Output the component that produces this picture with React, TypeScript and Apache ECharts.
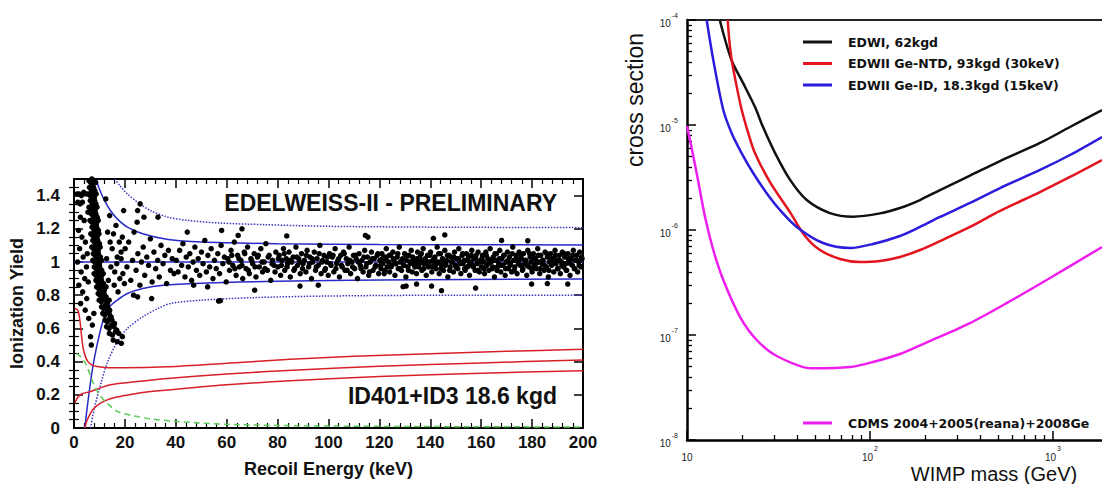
import { useEffect, useRef } from "react";
import * as echarts from "echarts";

const SANS = '"Liberation Sans", Arial, Helvetica, sans-serif';
const DEJAVU = '"DejaVu Sans", sans-serif';

// ---------------- Left panel: ionization yield vs recoil energy ----------------
const yieldTickLabels = [0, 0.2, 0.4, 0.6, 0.8, 1, 1.2, 1.4];
const yieldMinorTicks = [0.05, 0.1, 0.15, 0.25, 0.3, 0.35, 0.45, 0.5, 0.55, 0.65, 0.7, 0.75, 0.85, 0.9, 0.95, 1.05, 1.1, 1.15, 1.25, 1.3, 1.35, 1.45];

const blueCenter = [[0, 1], [200, 1]];
const blueUpper = [[8.8, 1.5], [9.1, 1.476], [10.5, 1.42], [12, 1.37], [14.3, 1.31], [17, 1.26], [21, 1.21], [27, 1.17], [37, 1.135], [50, 1.12], [80, 1.11], [120, 1.105], [200, 1.103]];
const blueLower = [[4.2, 0], [5, 0.1], [6, 0.22], [7, 0.33], [8, 0.42], [9.5, 0.53], [11.5, 0.65], [14, 0.73], [17, 0.77], [21, 0.81], [27, 0.84], [35, 0.86], [50, 0.872], [80, 0.884], [120, 0.892], [200, 0.897]];
const dottedUpper = [[16, 1.5], [18, 1.46], [21, 1.41], [25, 1.36], [30, 1.31], [37, 1.27], [45, 1.25], [57, 1.235], [75, 1.225], [100, 1.215], [140, 1.21], [200, 1.207]];
const dottedLower = [[6.5, 0], [8, 0.12], [10.6, 0.27], [13, 0.39], [17, 0.52], [21, 0.6], [27, 0.67], [33, 0.72], [38, 0.75], [50, 0.77], [70, 0.785], [100, 0.795], [150, 0.8], [200, 0.8]];
const redTop = [[0.3, 0.72], [1.5, 0.71], [2.3, 0.65], [3, 0.55], [3.6, 0.48], [4.5, 0.43], [5.5, 0.4], [7, 0.38], [9, 0.37], [12, 0.365], [20, 0.363], [36.7, 0.369], [60, 0.39], [85, 0.414], [110, 0.432], [140, 0.447], [170, 0.462], [200, 0.474]];
const redMiddle = [[0.3, 0.15], [1.5, 0.185], [3, 0.205], [6.5, 0.22], [14.3, 0.26], [25, 0.28], [37.8, 0.3], [60, 0.325], [88, 0.35], [120, 0.372], [160, 0.392], [200, 0.41]];
const redBottom = [[4.3, 0], [5, 0.04], [6.5, 0.09], [8, 0.12], [10.4, 0.15], [14, 0.175], [18.2, 0.19], [25, 0.21], [37.8, 0.23], [60, 0.26], [85, 0.285], [120, 0.31], [160, 0.33], [200, 0.345]];
const greenDashed = [[1, 0.45], [2.5, 0.43], [4.5, 0.39], [7.6, 0.27], [10, 0.2], [13, 0.15], [17, 0.1], [23, 0.075], [30, 0.055], [40, 0.04], [60, 0.022], [100, 0.012], [150, 0.008], [200, 0.006]];

const lowEnergyDots = [[1.2, 1.41], [2.0, 1.41], [2.9, 1.4], [3.8, 1.42], [4.6, 1.41], [1.5, 1.36], [2.4, 1.35], [3.3, 1.36], [2.5, 1.27], [4.0, 1.25], [1.8, 1.19], [3.1, 1.15], [4.5, 1.12], [2.2, 1.08], [3.6, 1.03], [1.4, 1.0], [4.9, 0.97], [2.8, 0.94], [4.2, 0.9], [1.9, 0.86], [3.4, 0.82], [5.0, 0.78], [2.6, 0.75], [4.4, 0.71], [5.8, 0.66], [6.5, 0.55], [7.8, 0.69], [5.5, 1.3], [5.2, 1.05], [5.6, 0.88], [6.8, 0.5], [7.2, 0.62]];

const noiseStripeDots = [
  [5.9, 1.49], [6.5, 1.48], [7.0, 1.5], [7.4, 1.47], [7.9, 1.49], [8.5, 1.48],
  [6.1, 1.45], [6.7, 1.44], [7.2, 1.46], [7.7, 1.45], [8.2, 1.43],
  [5.6, 1.41], [6.3, 1.4], [6.9, 1.42], [7.5, 1.41], [8.0, 1.39], [8.7, 1.41],
  [6.4, 1.37], [7.0, 1.36], [7.6, 1.38], [8.1, 1.37], [8.6, 1.35],
  [5.9, 1.33], [6.6, 1.32], [7.2, 1.34], [7.8, 1.33], [8.3, 1.31], [9.0, 1.33],
  [6.8, 1.29], [7.4, 1.28], [8.0, 1.3], [8.6, 1.29], [9.1, 1.27],
  [6.3, 1.25], [7.0, 1.24], [7.6, 1.26], [8.2, 1.25], [8.8, 1.23], [9.5, 1.25],
  [7.1, 1.21], [7.7, 1.2], [8.3, 1.22], [8.9, 1.21], [9.6, 1.19],
  [6.6, 1.17], [7.3, 1.16], [7.9, 1.18], [8.5, 1.17], [9.1, 1.15], [9.8, 1.17],
  [7.4, 1.13], [8.0, 1.12], [8.7, 1.14], [9.3, 1.13], [10.0, 1.11],
  [7.0, 1.09], [7.7, 1.08], [8.3, 1.1], [8.9, 1.09], [9.5, 1.07], [10.3, 1.09],
  [7.6, 1.05], [8.3, 1.04], [9.0, 1.06], [9.6, 1.05], [10.4, 1.03],
  [7.4, 1.01], [8.1, 1.0], [8.7, 1.02], [9.3, 1.01], [10.0, 0.99], [10.8, 1.01],
  [8.0, 0.97], [8.7, 0.96], [9.4, 0.98], [10.1, 0.97], [10.9, 0.95],
  [7.9, 0.93], [8.6, 0.92], [9.3, 0.94], [10.0, 0.93], [10.7, 0.91], [11.5, 0.93],
  [8.6, 0.89], [9.3, 0.88], [10.0, 0.9], [10.8, 0.89], [11.6, 0.87],
  [8.9, 0.85], [9.7, 0.84], [10.4, 0.86], [11.1, 0.85], [11.9, 0.83], [12.6, 0.85],
  [9.5, 0.81], [10.3, 0.8], [11.0, 0.82], [11.8, 0.81], [12.6, 0.79],
  [9.9, 0.77], [10.7, 0.76], [11.5, 0.78], [12.3, 0.77], [13.1, 0.75], [13.8, 0.77],
  [10.8, 0.73], [11.6, 0.72], [12.4, 0.74], [13.2, 0.73], [14.0, 0.71],
  [11.3, 0.69], [12.1, 0.68], [13.0, 0.7], [13.8, 0.69], [14.6, 0.67],
  [12.2, 0.65], [13.1, 0.64], [14.0, 0.66], [14.9, 0.65], [15.9, 0.63],
  [12.8, 0.61], [13.8, 0.6], [14.8, 0.62], [15.7, 0.61], [16.8, 0.59],
  [13.9, 0.57], [15.1, 0.56], [16.3, 0.58], [17.6, 0.57], [19.0, 0.55],
  [15.4, 0.53], [17.0, 0.52], [18.6, 0.51]
];

const nearStripeDots = [[12.5, 1.38], [14.0, 1.28], [15.5, 1.17], [16.5, 1.22], [13.2, 1.18], [17.8, 1.12], [19.0, 1.15], [15.0, 1.08], [16.0, 0.94], [14.5, 0.97], [17.0, 1.03], [13.5, 0.89], [15.8, 0.86], [18.0, 0.9], [12.8, 1.02], [14.2, 1.12], [16.8, 0.99], [18.5, 1.06], [17.3, 0.82], [19.8, 0.87]];

const bandDots18to80 = [
  [18.5, 1.02], [19.2, 0.93], [20.1, 1.08], [20.8, 0.97], [21.5, 1.12], [22.3, 0.89], [23.0, 1.01], [23.6, 1.18], [24.4, 0.95], [25.1, 1.05], [25.9, 0.86], [26.5, 1.0], [27.2, 1.09], [27.8, 0.92], [28.6, 1.03], [29.3, 0.98], [30.0, 1.14], [30.7, 0.88], [31.4, 1.06], [32.1, 0.96], [32.9, 1.01], [33.5, 0.91], [34.2, 1.1], [35.0, 0.99], [35.7, 1.04], [36.4, 0.87], [37.1, 1.07], [37.9, 0.95], [38.6, 1.02], [39.3, 0.93],
  [40.2, 1.01], [40.9, 0.94], [41.5, 1.07], [42.3, 0.98], [42.8, 1.11], [43.6, 0.91], [44.1, 1.03], [44.9, 0.97], [45.5, 1.05], [46.2, 0.89], [46.8, 1.0], [47.5, 1.09], [48.1, 0.95], [48.8, 1.02], [49.4, 0.92], [50.1, 1.06], [50.7, 0.99], [51.4, 1.13], [52.0, 0.94], [52.6, 1.04], [53.3, 0.97], [53.9, 1.08], [54.6, 0.9], [55.2, 1.01], [55.9, 0.96], [56.5, 1.05], [57.2, 0.93], [57.8, 1.1], [58.5, 0.99], [59.1, 1.03], [59.8, 0.88],
  [60.4, 1.02], [61.1, 0.95], [61.7, 1.07], [62.4, 0.98], [63.0, 1.12], [63.7, 0.92], [64.3, 1.04], [65.0, 0.97], [65.6, 1.01], [66.3, 0.9], [66.9, 1.06], [67.6, 0.96], [68.2, 1.09], [68.9, 0.93], [69.5, 1.02], [70.2, 0.99], [70.8, 1.05], [71.5, 0.91], [72.1, 1.03], [72.8, 0.97], [73.4, 1.08], [74.1, 0.94], [74.7, 1.0], [75.4, 1.11], [76.0, 0.95], [76.7, 1.04], [77.3, 0.89], [78.0, 1.01], [78.6, 0.98], [79.3, 1.06]
];

const bandDots80to120 = [
  [80.1, 0.97], [80.6, 1.04], [81.2, 0.92], [81.7, 1.01], [82.3, 1.08], [82.8, 0.95], [83.4, 1.02], [83.9, 0.99], [84.5, 1.06], [85.0, 0.91], [85.6, 1.0], [86.1, 1.03], [86.7, 0.96], [87.2, 1.09], [87.8, 0.98], [88.3, 1.02], [88.9, 0.93], [89.4, 1.05], [90.0, 0.99], [90.5, 1.01], [91.1, 0.94], [91.6, 1.07], [92.2, 0.97], [92.7, 1.03], [93.3, 0.9], [93.8, 1.0], [94.4, 1.06], [94.9, 0.95], [95.5, 1.02], [96.0, 0.98], [96.6, 1.1], [97.1, 0.93], [97.7, 1.01], [98.2, 1.04], [98.8, 0.96], [99.3, 1.0], [99.9, 0.92],
  [100.4, 1.05], [101.0, 0.98], [101.5, 1.03], [102.1, 0.94], [102.6, 1.08], [103.2, 0.99], [103.7, 1.01], [104.3, 0.91], [104.8, 1.04], [105.4, 0.97], [105.9, 1.06], [106.5, 0.95], [107.0, 1.02], [107.6, 0.99], [108.1, 1.09], [108.7, 0.93], [109.2, 1.0], [109.8, 1.04], [110.3, 0.96], [110.9, 1.02], [111.4, 0.9], [112.0, 1.05], [112.5, 0.98], [113.1, 1.01], [113.6, 0.94], [114.2, 1.07], [114.7, 0.97], [115.3, 1.03], [115.8, 0.92], [116.4, 1.0], [116.9, 1.06], [117.5, 0.95], [118.0, 1.02], [118.6, 0.98], [119.1, 1.04], [119.7, 0.93]
];

const bandDots120to160 = [
  [120.2, 1.01], [120.6, 0.96], [121.0, 1.05], [121.4, 0.99], [121.9, 0.93], [122.3, 1.03], [122.7, 1.08], [123.1, 0.97], [123.6, 1.0], [124.0, 0.94], [124.4, 1.04], [124.8, 0.98], [125.3, 1.06], [125.7, 1.01], [126.1, 0.92], [126.5, 0.99], [127.0, 1.03], [127.4, 0.96], [127.8, 1.09], [128.2, 1.0], [128.7, 0.95], [129.1, 1.02], [129.5, 0.98], [129.9, 1.05], [130.4, 0.91], [130.8, 1.01], [131.2, 0.97], [131.6, 1.04], [132.1, 0.99], [132.5, 1.07], [132.9, 0.94], [133.3, 1.02], [133.8, 0.98], [134.2, 1.0], [134.6, 0.93], [135.0, 1.06], [135.5, 0.97], [135.9, 1.03], [136.3, 1.01], [136.7, 0.95], [137.2, 1.08], [137.6, 0.99], [138.0, 1.02], [138.4, 0.92], [138.9, 1.04], [139.3, 0.97], [139.7, 1.0],
  [140.1, 1.06], [140.6, 0.94], [141.0, 1.01], [141.4, 0.98], [141.8, 1.03], [142.3, 0.96], [142.7, 1.09], [143.1, 1.0], [143.5, 0.93], [144.0, 1.05], [144.4, 0.98], [144.8, 1.02], [145.2, 0.95], [145.7, 1.07], [146.1, 0.99], [146.5, 1.01], [146.9, 0.91], [147.4, 1.04], [147.8, 0.97], [148.2, 1.03], [148.6, 1.0], [149.1, 0.94], [149.5, 1.06], [149.9, 0.98], [150.3, 1.02], [150.8, 0.96], [151.2, 1.08], [151.6, 1.0], [152.0, 0.93], [152.5, 1.04], [152.9, 0.99], [153.3, 1.01], [153.7, 0.95], [154.2, 1.05], [154.6, 0.97], [155.0, 1.03], [155.4, 0.92], [155.9, 1.0], [156.3, 1.07], [156.7, 0.98], [157.1, 1.02], [157.6, 0.95], [158.0, 1.04], [158.4, 0.99], [158.8, 1.06], [159.3, 0.94], [159.7, 1.01]
];

const bandDots160to200 = [
  [160.1, 0.97], [160.5, 1.04], [160.9, 1.0], [161.3, 0.93], [161.8, 1.06], [162.2, 0.98], [162.6, 1.02], [163.0, 0.95], [163.5, 1.08], [163.9, 1.0], [164.3, 0.96], [164.7, 1.03], [165.2, 0.91], [165.6, 1.01], [166.0, 1.05], [166.4, 0.97], [166.9, 0.99], [167.3, 1.07], [167.7, 0.94], [168.1, 1.02], [168.6, 0.98], [169.0, 1.04], [169.4, 0.92], [169.8, 1.0], [170.3, 1.06], [170.7, 0.96], [171.1, 1.03], [171.5, 0.99], [172.0, 0.94], [172.4, 1.09], [172.8, 1.01], [173.2, 0.97], [173.7, 1.04], [174.1, 0.93], [174.5, 1.0], [174.9, 1.06], [175.4, 0.98], [175.8, 1.02], [176.2, 0.95], [176.6, 1.05], [177.1, 0.99], [177.5, 1.01], [177.9, 0.92], [178.3, 1.07], [178.8, 0.97], [179.2, 1.03], [179.6, 1.0],
  [180.0, 0.94], [180.5, 1.05], [180.9, 0.98], [181.3, 1.02], [181.7, 0.96], [182.2, 1.08], [182.6, 1.0], [183.0, 0.93], [183.4, 1.04], [183.9, 0.99], [184.3, 1.01], [184.7, 0.95], [185.1, 1.06], [185.6, 0.97], [186.0, 1.03], [186.4, 0.91], [186.8, 1.0], [187.3, 1.05], [187.7, 0.98], [188.1, 1.02], [188.5, 0.94], [189.0, 1.07], [189.4, 0.99], [189.8, 1.01], [190.2, 0.96], [190.7, 1.04], [191.1, 0.93], [191.5, 1.0], [191.9, 1.06], [192.4, 0.97], [192.8, 1.03], [193.2, 0.99], [193.6, 0.95], [194.1, 1.05], [194.5, 1.01], [194.9, 0.92], [195.3, 1.02], [195.8, 0.98], [196.2, 1.07], [196.6, 0.96], [197.0, 1.01], [197.5, 1.04], [197.9, 0.94], [198.3, 1.0], [198.7, 1.06], [199.2, 0.97], [199.6, 1.02]
];

const bandDotsDenseCore = [
  [60.9, 1.0], [62.0, 1.04], [63.2, 0.96], [64.8, 1.02], [66.0, 0.98], [67.1, 1.05], [68.5, 0.95], [69.8, 1.01], [71.1, 0.97], [72.4, 1.04], [73.9, 1.0], [75.0, 0.96], [76.3, 1.03], [77.8, 0.99], [79.0, 0.94],
  [80.3, 1.02], [81.5, 0.98], [82.6, 1.05], [83.7, 0.97], [84.9, 1.01], [86.4, 0.95], [87.5, 1.03], [88.6, 1.0], [89.8, 0.96], [91.3, 1.04], [92.5, 0.99], [93.6, 1.02], [95.2, 0.97], [96.3, 1.05], [97.4, 1.0], [98.5, 0.95], [99.6, 1.03],
  [100.7, 0.99], [101.8, 1.04], [102.9, 0.96], [104.0, 1.02], [105.1, 0.98], [106.2, 1.05], [107.3, 0.95], [108.4, 1.01], [109.5, 0.97], [110.6, 1.04], [111.7, 1.0], [112.8, 0.96], [113.9, 1.03], [115.0, 0.99], [116.1, 0.94], [117.2, 1.02], [118.3, 0.97], [119.4, 1.05],
  [120.4, 0.98], [121.2, 1.02], [122.0, 0.95], [122.9, 1.01], [123.8, 1.04], [124.6, 0.97], [125.5, 1.02], [126.3, 0.99], [127.2, 1.05], [128.0, 0.96], [128.9, 1.01], [129.7, 0.98], [130.6, 1.04], [131.4, 0.95], [132.3, 1.0], [133.1, 1.03], [134.0, 0.97], [134.8, 1.02], [135.7, 0.99], [136.5, 1.05], [137.4, 0.96], [138.2, 1.01], [139.1, 0.98], [139.9, 1.04],
  [140.8, 0.97], [141.6, 1.02], [142.5, 0.99], [143.3, 1.05], [144.2, 0.96], [145.0, 1.01], [145.9, 0.98], [146.7, 1.04], [147.6, 0.95], [148.4, 1.0], [149.3, 1.03], [150.1, 0.97], [151.0, 1.02], [151.8, 0.99], [152.7, 1.05], [153.5, 0.96], [154.4, 1.01], [155.2, 0.98], [156.1, 1.04], [156.9, 0.97], [157.8, 1.02], [158.6, 0.95], [159.5, 1.0],
  [160.3, 1.02], [161.1, 0.96], [162.0, 1.04], [162.8, 0.99], [163.7, 1.01], [164.5, 0.97], [165.4, 1.05], [166.2, 0.95], [167.1, 1.02], [167.9, 0.98], [168.8, 1.04], [169.6, 0.96], [170.5, 1.01], [171.3, 0.98], [172.2, 1.05], [173.0, 0.95], [173.9, 1.02], [174.7, 0.99], [175.6, 1.04], [176.4, 0.96], [177.3, 1.01], [178.1, 0.98], [179.0, 1.05], [179.8, 0.96],
  [180.7, 1.02], [181.5, 0.99], [182.4, 1.04], [183.2, 0.96], [184.1, 1.01], [184.9, 0.98], [185.8, 1.05], [186.6, 0.95], [187.5, 1.02], [188.3, 0.99], [189.2, 1.04], [190.0, 0.96], [190.9, 1.01], [191.7, 0.98], [192.6, 1.05], [193.4, 0.95], [194.3, 1.02], [195.1, 0.99], [196.0, 1.04], [196.8, 0.96], [197.7, 1.01], [198.5, 0.98], [199.4, 1.03]
];

const outlierDots = [[19.5, 1.31], [24.8, 1.24], [25.0, 1.31], [27.5, 1.27], [33.0, 1.27], [26.0, 1.35], [23.4, 0.8], [25.0, 0.79], [30.5, 0.78], [44.5, 1.18], [47.0, 0.86], [56.8, 0.765], [57.5, 0.767], [58.0, 1.19], [66.0, 1.2], [71.0, 0.83], [52.5, 0.85], [64.5, 1.16], [83.6, 1.157], [88.8, 0.855], [114.5, 1.16], [115.5, 1.15], [96.0, 0.86], [141.2, 1.143], [145.7, 1.163], [129.3, 0.851], [130.5, 0.855], [134.6, 0.867], [144.4, 0.827], [157.8, 0.843], [140.5, 0.855], [178.3, 1.128], [179.8, 0.867], [194.0, 0.867], [168.0, 1.13], [186.0, 0.87]];

// ---------------- Right panel: cross section limits vs WIMP mass ----------------
const massTickLabels = [10, 100, 1000];
const edw1 = [[15.1, 1e-4], [17.5, 4.16e-5], [20.3, 2.49e-5], [23.5, 1.49e-5], [26, 9.6e-6], [30.3, 5.4e-6], [36.6, 3.0e-6], [45.1, 1.93e-6], [60.4, 1.45e-6], [80.7, 1.34e-6], [113.4, 1.44e-6], [145.8, 1.62e-6], [187.6, 1.93e-6], [241.3, 2.4e-6], [351.9, 3.3e-6], [513.3, 4.54e-6], [849, 6.74e-6], [1238, 9.57e-6], [1853, 1.39e-5]];
const edw2Ntd = [[16.69, 1e-4], [17.02, 6.45e-5], [17.55, 4.16e-5], [18.69, 2.32e-5], [19.91, 1.39e-5], [21.63, 8.34e-6], [23.53, 5.37e-6], [28.42, 2.86e-6], [36.54, 1.48e-6], [44.14, 8.77e-7], [53.3, 6.45e-7], [68.6, 5.3e-7], [88.2, 4.96e-7], [113.4, 5.07e-7], [145.8, 5.53e-7], [187.6, 6.45e-7], [241.3, 7.85e-7], [351.9, 1.07e-6], [513.3, 1.52e-6], [849, 2.3e-6], [1238, 3.2e-6], [1853, 4.64e-6]];
const edw2Id = [[12.81, 1e-4], [13.92, 4.16e-5], [15.79, 1.39e-5], [17.55, 8.34e-6], [19.91, 5.37e-6], [23.03, 3.47e-6], [27.26, 2.24e-6], [32.22, 1.55e-6], [39.77, 1.07e-6], [55.37, 7.52e-7], [77.7, 6.74e-7], [103.8, 7.36e-7], [145.8, 8.77e-7], [187.6, 1.07e-6], [241.3, 1.33e-6], [351.9, 1.81e-6], [513.3, 2.51e-6], [849, 3.73e-6], [1238, 5.18e-6], [1853, 7.69e-6]];
const cdms = [[10, 9.77e-6], [10.38, 7.2e-6], [11.3, 3.47e-6], [12.54, 1.34e-6], [13.92, 6.45e-7], [15.79, 3.34e-7], [19.48, 1.49e-7], [24.04, 8.96e-8], [30.92, 6.31e-8], [48.02, 4.82e-8], [77.7, 4.95e-8], [103.8, 5.53e-8], [145.8, 6.59e-8], [194.9, 8.2e-8], [351.9, 1.3e-7], [560.6, 2.02e-7], [963, 3.49e-7], [1853, 6.89e-7]];

const legendTop = ["EDWI, 62kgd", "EDWII Ge-NTD, 93kgd (30keV)", "EDWII Ge-ID, 18.3kgd (15keV)"];
const legendBottom = ["CDMS 2004+2005(reana)+2008Ge"];

const massMinorTicks = [1, 2, 3].flatMap((d) => [2, 3, 4, 5, 6, 7, 8, 9].map((k) => k * Math.pow(10, d)));
const sigmaMinorTicks = [-8, -7, -6, -5].flatMap((d) => [2, 3, 4, 5, 6, 7, 8, 9].map((k) => k * Math.pow(10, d)));

const powerLabel = (v: number) => {
  const e = Math.round(Math.log10(v));
  return e === 1 ? "{b|10}" : `{b|10}{e|${e}}`;
};
const powRich = {
  b: { fontFamily: SANS, fontSize: 10, color: "#222", verticalAlign: "bottom", padding: [7, 0, 0, 0] },
  e: { fontFamily: SANS, fontSize: 7, color: "#222", verticalAlign: "top", padding: [0, 0, 0, 1] },
};

const black = "#000";
const leftAxisLine = { show: true, onZero: false, lineStyle: { color: black, width: 2 } };
const rightAxisLine = { show: true, onZero: false, lineStyle: { color: black, width: 2.5 } };
const noSplit = { show: false };

function buildOption(): any {
  const leftLine = (name: string, data: number[][], color: string, type: any = "solid", width = 1.5) => ({
    name, type: "line", xAxisIndex: 0, yAxisIndex: 0, data, showSymbol: false, smooth: 0.3,
    lineStyle: { color, width, type }, silent: true, z: 2,
  });
  const rightLine = (name: string, data: number[][], color: string) => ({
    name, type: "line", xAxisIndex: 2, yAxisIndex: 4, data, showSymbol: false, smooth: 0.3,
    lineStyle: { color, width: 2.5 }, itemStyle: { color }, silent: true,
  });
  const legendCommon = {
    orient: "vertical", left: 803, padding: 0, icon: "rect", itemWidth: 29, itemHeight: 3, itemGap: 7.5,
    selectedMode: false,
    textStyle: { fontFamily: DEJAVU, fontWeight: "bold", fontSize: 12.5, color: "#111", lineHeight: 14, padding: [0, 0, 0, 11] },
  };
  return {
    animation: false,
    backgroundColor: "#fff",
    grid: [
      { left: 74, top: 179, width: 509, height: 249, outerBoundsMode: "none", containLabel: false },
      { left: 687, top: 20, width: 549, height: 420, outerBoundsMode: "none", containLabel: false },
    ],
    xAxis: [
      {
        gridIndex: 0, type: "value", position: "bottom", min: 0, max: 200, interval: 20,
        axisLine: leftAxisLine,
        axisTick: { show: true, inside: true, length: 9, lineStyle: { color: black, width: 1.5 } },
        minorTick: { show: true, splitNumber: 5, length: 5, lineStyle: { color: black, width: 1.2 } },
        axisLabel: { margin: 6, fontFamily: SANS, fontWeight: "bold", fontSize: 17, color: "#111" },
        splitLine: noSplit, minorSplitLine: noSplit,
        name: "Recoil Energy (keV)", nameLocation: "middle", nameGap: 32,
        nameTextStyle: { fontFamily: SANS, fontWeight: "bold", fontSize: 18, color: "#111" },
      },
      {
        gridIndex: 0, type: "value", position: "top", min: 0, max: 200, interval: 20,
        axisLine: leftAxisLine,
        axisTick: { show: true, inside: true, length: 9, lineStyle: { color: black, width: 1.5 } },
        minorTick: { show: true, splitNumber: 5, length: 5, lineStyle: { color: black, width: 1.2 } },
        axisLabel: { show: false }, splitLine: noSplit, minorSplitLine: noSplit,
      },
      {
        gridIndex: 1, type: "log", logBase: 10, position: "bottom", min: 10, max: 10000,
        axisLine: rightAxisLine,
        axisTick: { show: true, inside: true, length: 9, customValues: massTickLabels, lineStyle: { color: black, width: 1.5 } },
        axisLabel: { margin: 5, customValues: massTickLabels, formatter: powerLabel, rich: powRich },
        splitLine: noSplit,
      },
      {
        gridIndex: 1, type: "log", logBase: 10, position: "top", min: 10, max: 10000,
        axisLine: { show: true, onZero: false, lineStyle: { color: "#222", width: 2 } },
        axisTick: { show: false }, axisLabel: { show: false }, splitLine: noSplit,
      },
      {
        gridIndex: 1, type: "log", logBase: 10, position: "bottom", min: 10, max: 10000,
        axisLine: { show: false },
        axisTick: { show: true, inside: true, length: 5, customValues: massMinorTicks, lineStyle: { color: black, width: 1.3 } },
        axisLabel: { show: false }, splitLine: noSplit,
      },
    ],
    yAxis: [
      {
        gridIndex: 0, type: "value", position: "left", min: 0, max: 1.5,
        axisLine: leftAxisLine,
        axisTick: { show: true, inside: true, length: 9, customValues: yieldTickLabels, lineStyle: { color: black, width: 1.5 } },
        axisLabel: { margin: 14, customValues: yieldTickLabels, fontFamily: SANS, fontWeight: "bold", fontSize: 17, color: "#111" },
        splitLine: noSplit,
        name: "Ionization Yield", nameLocation: "middle", nameGap: 48,
        nameTextStyle: { fontFamily: SANS, fontWeight: "bold", fontSize: 18, color: "#111" },
      },
      {
        gridIndex: 0, type: "value", position: "left", min: 0, max: 1.5,
        axisLine: { show: false },
        axisTick: { show: true, inside: true, length: 5, customValues: yieldMinorTicks, lineStyle: { color: black, width: 1.2 } },
        axisLabel: { show: false }, splitLine: noSplit,
      },
      {
        gridIndex: 0, type: "value", position: "right", min: 0, max: 1.5,
        axisLine: leftAxisLine,
        axisTick: { show: true, inside: true, length: 9, customValues: yieldTickLabels, lineStyle: { color: black, width: 1.5 } },
        axisLabel: { show: false }, splitLine: noSplit,
      },
      {
        gridIndex: 0, type: "value", position: "right", min: 0, max: 1.5,
        axisLine: { show: false },
        axisTick: { show: true, inside: true, length: 5, customValues: yieldMinorTicks, lineStyle: { color: black, width: 1.2 } },
        axisLabel: { show: false }, splitLine: noSplit,
      },
      {
        gridIndex: 1, type: "log", logBase: 10, position: "left", min: 1e-8, max: 1e-4,
        axisLine: rightAxisLine,
        axisTick: { show: true, inside: true, length: 9, lineStyle: { color: black, width: 1.5 } },
        axisLabel: { margin: 9, formatter: powerLabel, rich: powRich },
        splitLine: noSplit,
      },
      {
        gridIndex: 1, type: "log", logBase: 10, position: "left", min: 1e-8, max: 1e-4,
        axisLine: { show: false },
        axisTick: { show: true, inside: true, length: 5, customValues: sigmaMinorTicks, lineStyle: { color: black, width: 1.3 } },
        axisLabel: { show: false }, splitLine: noSplit,
      },
    ],
    legend: [
      { ...legendCommon, top: 35, data: legendTop },
      { ...legendCommon, top: 416, data: legendBottom },
    ],
    series: [
      leftLine("nominal", blueCenter, "#2a2ac8"),
      leftLine("electron band upper", blueUpper, "#2a2ac8"),
      leftLine("electron band lower", blueLower, "#2a2ac8"),
      leftLine("dotted upper", dottedUpper, "#3a3ac0", "dotted"),
      leftLine("dotted lower", dottedLower, "#3a3ac0", "dotted"),
      leftLine("nuclear band top", redTop, "#d8202a"),
      leftLine("nuclear band middle", redMiddle, "#d8202a"),
      leftLine("nuclear band bottom", redBottom, "#d8202a"),
      leftLine("threshold", greenDashed, "#5ccc5c", [6, 4]),
      {
        name: "events", type: "scatter", xAxisIndex: 0, yAxisIndex: 0, symbolSize: 5.5, silent: true, z: 3,
        itemStyle: { color: "#000", opacity: 1 },
        data: [...lowEnergyDots, ...noiseStripeDots, ...nearStripeDots, ...bandDots18to80, ...bandDots80to120, ...bandDots120to160, ...bandDots160to200, ...bandDotsDenseCore, ...outlierDots],
      },
      rightLine(legendTop[0], edw1, "#111111"),
      rightLine(legendTop[1], edw2Ntd, "#e3141d"),
      rightLine(legendTop[2], edw2Id, "#2b1bdc"),
      rightLine(legendBottom[0], cdms, "#ee1fee"),
    ],
    graphic: [
      { type: "text", x: 557, y: 203, silent: true, style: { text: "EDELWEISS-II - PRELIMINARY", font: `bold 23px ${SANS}`, fill: "#111", textAlign: "right", textVerticalAlign: "middle", align: "right", verticalAlign: "middle" } },
      { type: "text", x: 557, y: 396, silent: true, style: { text: "ID401+ID3 18.6 kgd", font: `bold 23px ${SANS}`, fill: "#111", textAlign: "right", textVerticalAlign: "middle", align: "right", verticalAlign: "middle" } },
      { type: "text", x: 635, y: 100, rotation: Math.PI / 2, silent: true, style: { text: "cross section", font: `23px ${SANS}`, fill: "#111", textAlign: "center", textVerticalAlign: "middle", align: "center", verticalAlign: "middle" } },
      { type: "text", x: 994, y: 474, silent: true, style: { text: "WIMP mass (GeV)", font: `20px ${SANS}`, fill: "#111", textAlign: "center", textVerticalAlign: "middle", align: "center", verticalAlign: "middle" } },
    ],
  };
}

export default function App() {
  const ref = useRef<HTMLDivElement>(null);
  useEffect(() => {
    if (!ref.current) return;
    const chart = echarts.init(ref.current, null, { renderer: "svg" });
    chart.setOption(buildOption());
    return () => chart.dispose();
  }, []);
  return <div ref={ref} style={{ position: "absolute", left: 0, top: 0, width: 1102, height: 484, background: "#fff" }} />;
}
